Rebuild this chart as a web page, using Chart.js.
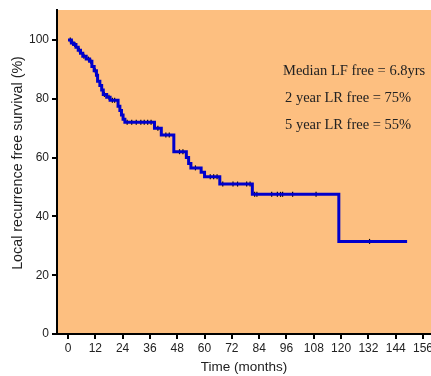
<!DOCTYPE html>
<html>
<head>
<meta charset="utf-8">
<script src="https://cdn.jsdelivr.net/npm/chart.js@4"></script>
<style>
  html, body { margin: 0; padding: 0; background: #fff; overflow: hidden; }
  #wrap { width: 431px; height: 376px; position: relative; }
</style>
</head>
<body>
<div id="wrap"><canvas id="kmChart"></canvas></div>
<script>
// ===============================
// DATA
// ===============================
const timeMonths = [0, 1.5, 2.5, 3.5, 4.5, 5.5, 6.5, 8, 9.5, 10.5, 11.5, 12.5, 13, 14, 14.8, 15.5, 17, 18.5,
  22, 22.8, 23.5, 24.2, 25, 38, 41, 46.5, 52, 53, 54, 58.5, 60, 66.7, 81, 119, 149];
const survivalPct = [100, 99, 98.5, 97.5, 96.5, 95.5, 94.5, 93.5, 92.8, 91, 89.5, 88, 86, 84.5, 83, 81.5, 80.5, 79.5,
  77.5, 76, 74.5, 73, 72, 70, 67.7, 62, 60, 58, 56.5, 55, 53.5, 51, 47.5, 31.5, 31.5];
const censorMonths = [1, 2, 3, 5, 7, 9, 10, 12, 16, 18, 19.5, 20.5, 26, 28, 30, 32, 33.5, 35, 36.5, 39.5,
  43, 44.5, 49, 50.5, 56, 62.5, 64, 65.5, 68, 72.5, 74.5, 78.5, 80, 82, 83, 89.5, 92, 93.4, 94.3, 98.7, 109, 132.5];
const xTicks = [0, 12, 24, 36, 48, 60, 72, 84, 96, 108, 120, 132, 144, 156];
const yTicks = [0, 20, 40, 60, 80, 100];
const notes = ["Median LF free = 6.8yrs", "2 year LR free = 75%", "5 year LR free = 55%"];
const yTitle = "Local recurrence free survival (%)";

// ===============================
// HELPERS
// ===============================
function survivalAt(t) {
  let s = survivalPct[0];
  for (let i = 0; i < timeMonths.length; i++) {
    if (timeMonths[i] <= t) s = survivalPct[i];
  }
  return s;
}

const curve = timeMonths.map((t, i) => ({ x: t, y: survivalPct[i] }));
const censored = censorMonths.map(t => ({ x: t, y: survivalAt(t) }));

// orange panel behind the plot, text notes, y title
const panelPlugin = {
  id: "panel",
  beforeDraw(chart) {
    const { ctx, chartArea: a } = chart;
    ctx.save();
    ctx.fillStyle = "#fdbf80";
    ctx.fillRect(a.left, a.top, a.right - a.left, a.bottom - a.top);
    ctx.restore();
  },
  afterDraw(chart) {
    const { ctx } = chart;
    ctx.save();
    ctx.fillStyle = "#222";
    ctx.font = "14.5px 'Liberation Serif', 'Times New Roman', serif";
    ctx.textBaseline = "alphabetic";
    ctx.fillText(notes[0], 283, 75);
    ctx.fillText(notes[1], 285, 102);
    ctx.fillText(notes[2], 285, 129);

    // y axis title, a bit above the plot centre like the original
    ctx.translate(18, 163);
    ctx.rotate(-Math.PI / 2);
    ctx.font = "14.3px 'Liberation Sans', Arial, sans-serif";
    ctx.textAlign = "center";
    ctx.textBaseline = "middle";
    ctx.fillText(yTitle, 0, 0);
    ctx.restore();
  }
};

const axisFont = { family: "'Liberation Sans', Arial, sans-serif", size: 12 };
const titleFont = { family: "'Liberation Sans', Arial, sans-serif", size: 13.5 };

new Chart(document.getElementById("kmChart"), {
  type: "line",
  data: {
    datasets: [
      {
        data: curve,
        stepped: "before",
        borderColor: "#0000cc",
        borderWidth: 3,
        pointRadius: 0,
        fill: false
      },
      {
        type: "scatter",
        data: censored,
        pointStyle: "line",
        rotation: 90,
        pointRadius: 2.5,
        borderColor: "#000",
        borderWidth: 1.2,
        backgroundColor: "#000"
      }
    ]
  },
  options: {
    responsive: true,
    maintainAspectRatio: false,
    animation: false,
    layout: { autoPadding: false, padding: { top: 10, left: 0, right: 0, bottom: 0 } },
    plugins: { legend: { display: false }, tooltip: { enabled: false } },
    scales: {
      x: {
        type: "linear",
        min: -4.83,
        max: 159.5,
        afterBuildTicks: s => { s.ticks = xTicks.map(v => ({ value: v })); },
        afterFit: s => { s.height = 42; s.paddingLeft = 0; s.paddingRight = 0; },
        border: { display: true, color: "#000", width: 2 },
        grid: { drawOnChartArea: false, drawTicks: true, tickLength: 5, color: "#000", lineWidth: 2 },
        ticks: { color: "#222", font: axisFont, padding: 2, maxRotation: 0, autoSkip: false },
        title: { display: true, text: "Time (months)", color: "#222", font: titleFont, padding: { top: 0, bottom: 1 } }
      },
      y: {
        min: 0,
        max: 110.2,
        afterBuildTicks: s => { s.ticks = yTicks.map(v => ({ value: v })); },
        afterFit: s => { s.width = 57; s.paddingTop = 0; s.paddingBottom = 0; },
        border: { display: true, color: "#000", width: 2 },
        grid: { drawOnChartArea: false, drawTicks: true, tickLength: 5, color: "#000", lineWidth: 2 },
        ticks: { color: "#222", font: axisFont, padding: 3 },
        title: { display: false }
      }
    }
  },
  plugins: [panelPlugin]
});
</script>
</body>
</html>
